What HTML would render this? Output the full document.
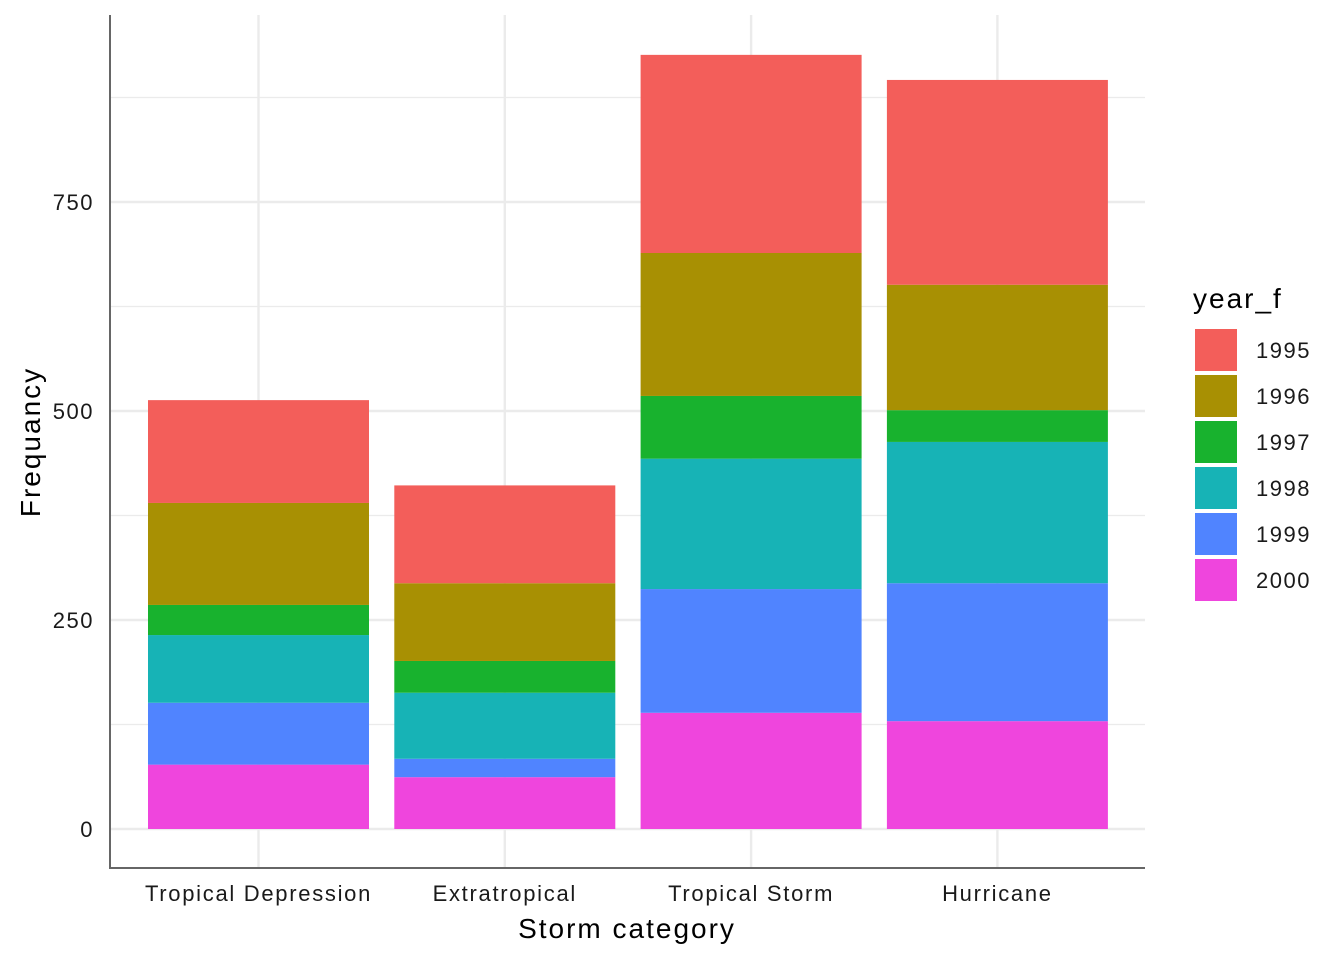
<!DOCTYPE html>
<html><head><meta charset="utf-8"><style>
html,body{margin:0;padding:0;background:#fff;}
svg{font-family:"Liberation Sans",Arial,sans-serif;display:block}
</style></head><body>
<svg id="chart" width="1344" height="960">
<g id="grid"></g>
<g id="bars"></g>
<g id="axes"></g>
<g id="legend"></g>
</svg>
<script>
const categories = ["Tropical Depression","Extratropical","Tropical Storm","Hurricane"];
const years = ["1995","1996","1997","1998","1999","2000"];
const colors = ["#F35E5A","#A89003","#18B22E","#17B3B6","#5084FF","#EF45DD"];
const v2000 = [77,62,139,129];
const v1999 = [74,22,148,165];
const v1998 = [81,79,156,169];
const v1997 = [36,38,75,38];
const v1996 = [122,93,171,150];
const v1995 = [123,117,237,245];
const yTicks = [0,250,500,750];
const yMinor = [125,375,625,875];

const NS="http://www.w3.org/2000/svg";
const px0=110, px1=1145, py0=15, py1=868;
const y = v => 829 - v*0.836;
const xc = i => 258.5 + i*246.3;
const bw = 221;
function mk(tag, attrs, parent){const e=document.createElementNS(NS,tag);for(const k in attrs)e.setAttribute(k,attrs[k]);parent.appendChild(e);return e;}
const grid=document.getElementById('grid'), bars=document.getElementById('bars'), axes=document.getElementById('axes'), legend=document.getElementById('legend');

yMinor.forEach(t=>{const l=mk('line',{x1:px0,x2:px1,y1:y(t),y2:y(t),stroke:'#EBEBEB','stroke-width':1.2},grid);

});
yTicks.forEach(t=>{const l=mk('line',{x1:px0,x2:px1,y1:y(t),y2:y(t),stroke:'#EBEBEB','stroke-width':2.4},grid);

});
categories.forEach((c,i)=>{const l=mk('line',{x1:xc(i),x2:xc(i),y1:py0,y2:py1,stroke:'#EBEBEB','stroke-width':2.4},grid);

});

const stackOrder=[v2000,v1999,v1998,v1997,v1996,v1995];
const stackColors=[colors[5],colors[4],colors[3],colors[2],colors[1],colors[0]];
const stackYears=["2000","1999","1998","1997","1996","1995"];
categories.forEach((c,i)=>{let cum=0;
 stackOrder.forEach((arr,s)=>{const v=arr[i];
  const r=mk('rect',{x:xc(i)-bw/2,y:y(cum+v),width:bw,height:y(cum)-y(cum+v),fill:stackColors[s]},bars);
  
  
  cum+=v;});
});

const ax=mk('line',{x1:px0,x2:px0,y1:py0,y2:py1,stroke:'#666','stroke-width':2},axes);


const bx=mk('line',{x1:px0-1,x2:px1,y1:py1,y2:py1,stroke:'#666','stroke-width':2},axes);


yTicks.forEach(t=>{const tx=mk('text',{x:94,y:y(t)+8,'text-anchor':'end','font-size':22,'letter-spacing':1.5,fill:'#1a1a1a'},axes);tx.textContent=t;

});
categories.forEach((c,i)=>{const tx=mk('text',{x:xc(i),y:901,'text-anchor':'middle','font-size':22,'letter-spacing':1.7,fill:'#1a1a1a'},axes);tx.textContent=c;

});
const xt=mk('text',{x:627,y:938,'text-anchor':'middle','font-size':28,'letter-spacing':2,fill:'#000'},axes);xt.textContent='Storm category';


const yt=mk('text',{x:40,y:442,'text-anchor':'middle','font-size':28,'letter-spacing':2,fill:'#000',transform:'rotate(-90 40 442)'},axes);yt.textContent='Frequancy';



const lt=mk('text',{x:1193,y:308,'font-size':28,'letter-spacing':2,fill:'#000'},legend);lt.textContent='year_f';


years.forEach((yr,k)=>{const yy=329+k*46;
 const r=mk('rect',{x:1195,y:yy,width:42,height:42,fill:colors[k]},legend);
 
 
 const t=mk('text',{x:1256,y:yy+29,'font-size':22,'letter-spacing':1.5,fill:'#1a1a1a'},legend);t.textContent=yr;
 
 
});
</script>
</body></html>
